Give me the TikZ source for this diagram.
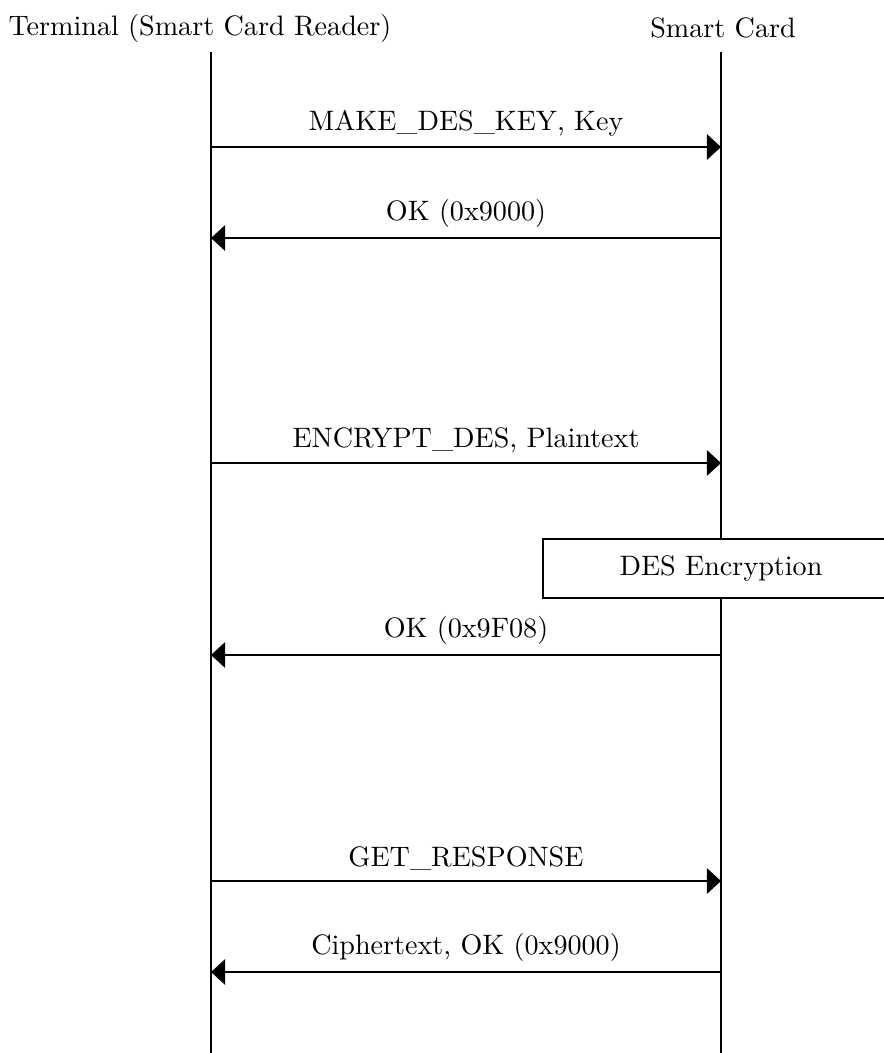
\documentclass[tikz,border=0pt]{standalone}
\usepackage{tikz}
\usetikzlibrary{arrows.meta, positioning}

\begin{document}
\begin{tikzpicture}[x=0.0125cm, y=-0.0125cm,
    lifeline/.style={line width=0.7pt},
    msg/.style={line width=0.75pt, -{Triangle[length=5pt, width=9pt]}},
    procbox/.style={draw, fill=white, line width=0.7pt, minimum width=4.45cm, minimum height=0.7375cm}]
        \useasboundingbox (0,0) rectangle (884,1053);
        \clip (0,0) rectangle (884,1053);

        \node (term) at (200,28) {Terminal (Smart Card Reader)};
        \node (card) at (723,28) {Smart Card};

        \coordinate (ttop) at (211,52);
        \coordinate (tbot) at (211,1053);
        \coordinate (ctop) at (721,52);
        \coordinate (cbot) at (721,1053);
        \draw[lifeline] (ttop) -- (tbot);
        \draw[lifeline] (ctop) -- (cbot);

        \coordinate (t1) at (211,147); \coordinate (c1) at (721,147);
        \coordinate (t2) at (211,238); \coordinate (c2) at (721,238);
        \coordinate (t3) at (211,463); \coordinate (c3) at (721,463);
        \coordinate (t4) at (211,655); \coordinate (c4) at (721,655);
        \coordinate (t5) at (211,881); \coordinate (c5) at (721,881);
        \coordinate (t6) at (211,972); \coordinate (c6) at (721,972);

        \draw[msg] (t1) -- node[above] {MAKE\_DES\_KEY, Key} (c1);
        \draw[msg] (c2) -- node[above] {OK (0x9000)} (t2);
        \draw[msg] (t3) -- node[above] {ENCRYPT\_DES, Plaintext} (c3);
        \node[procbox] (enc) at (721,568.5) {DES Encryption};
        \draw[msg] (c4) -- node[above] {OK (0x9F08)} (t4);
        \draw[msg] (t5) -- node[above] {GET\_RESPONSE} (c5);
        \draw[msg] (c6) -- node[above] {Ciphertext, OK (0x9000)} (t6);
    \end{tikzpicture}
\end{document}
